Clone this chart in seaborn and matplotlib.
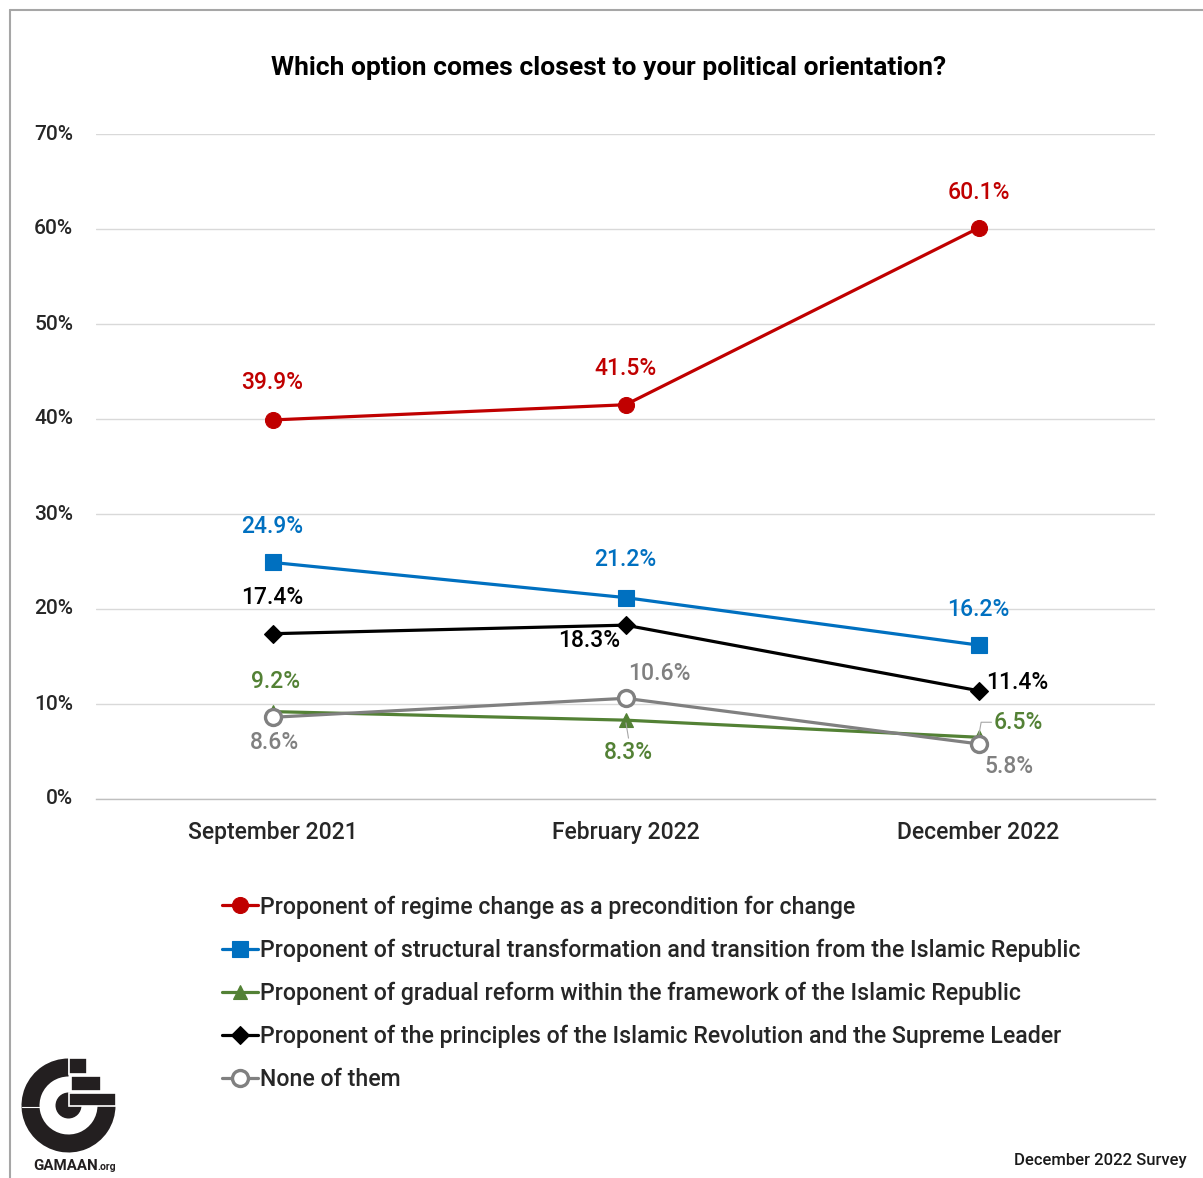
import matplotlib
matplotlib.use("Agg")
import matplotlib.pyplot as plt
import matplotlib.transforms as mtransforms
from matplotlib.patches import Wedge, Circle, Rectangle
from matplotlib.lines import Line2D
import seaborn as sns
import pandas as pd

# Survey waves and shares (%) per political orientation
surveys = ["September 2021", "February 2022", "December 2022"]
series_names = [
    "Proponent of regime change as a precondition for change",
    "Proponent of structural transformation and transition from the Islamic Republic",
    "Proponent of gradual reform within the framework of the Islamic Republic",
    "Proponent of the principles of the Islamic Revolution and the Supreme Leader",
    "None of them",
]
regime_change = [39.9, 41.5, 60.1]
structural = [24.9, 21.2, 16.2]
gradual_reform = [9.2, 8.3, 6.5]
principles = [17.4, 18.3, 11.4]
none_of_them = [8.6, 10.6, 5.8]
y_ticks = [0, 10, 20, 30, 40, 50, 60, 70]

values = [regime_change, structural, gradual_reform, principles, none_of_them]
colors = ["#C00000", "#0070C0", "#538135", "#000000", "#808080"]
markers = ["o", "s", "^", "D", "o"]
msizes = [11.5, 11, 10.5, 9, 11.5]

# label offsets in pixels (dx, dy) per point
label_pos = [
    [(0, 37), (0, 36), (0, 36)],
    [(0, 36), (0, 38), (0, 36)],
    [(3, 30), (3, -32), (40, 15)],
    [(0, 36), (-36, -15), (39, 8)],
    [(2, -25), (34, 25), (31, -23)],
]

df = pd.DataFrame({
    "survey": [i for _ in series_names for i in range(len(surveys))],
    "series": [s for s in series_names for _ in surveys],
    "value": [v for vals in values for v in vals],
})

sns.set_theme(style="white")
plt.rcParams["font.family"] = ["Roboto", "DejaVu Sans"]

W, H = 1203, 1178
fig = plt.figure(figsize=(W / 100, H / 100), dpi=100)
ax = fig.add_axes([96 / W, 1 - 799 / H, (1155 - 96) / W, (799 - 134) / H])

for name, col, mk, ms in zip(series_names, colors, markers, msizes):
    sub = df[df["series"] == name]
    hollow = name == "None of them"
    sns.lineplot(
        data=sub, x="survey", y="value", ax=ax, color=col, linewidth=2.3,
        marker=mk, markersize=ms,
        markerfacecolor="white" if hollow else col,
        markeredgecolor=col, markeredgewidth=2.4 if hollow else 0.8,
        label=name, legend=False, zorder=3,
    )

for vals, col, pos in zip(values, colors, label_pos):
    for i, (v, (dx, dy)) in enumerate(zip(vals, pos)):
        ax.annotate(f"{v:.1f}%", xy=(i, v), xytext=(dx, dy),
                    textcoords="offset pixels", ha="center", va="center",
                    fontsize=16.5, fontweight="medium", color=col, zorder=4)

# thin leaders for the crowded gradual-reform labels
ax.annotate("", xy=(2, gradual_reform[2]), xytext=(13, 15), textcoords="offset pixels",
            arrowprops=dict(arrowstyle="-", color="#A6A6A6", lw=0.8, shrinkA=0, shrinkB=2,
                            connectionstyle="angle,angleA=0,angleB=80,rad=0"))
ax.annotate("", xy=(1, gradual_reform[1]), xytext=(3, -18), textcoords="offset pixels",
            arrowprops=dict(arrowstyle="-", color="#A6A6A6", lw=0.8, shrinkA=0, shrinkB=2))

ax.set_xlim(-0.5, 2.5)
ax.set_ylim(0, 70)
ax.set_yticks(y_ticks)
ax.set_yticklabels([f"{t}%" for t in y_ticks], fontsize=15, fontweight="medium")
ax.set_xticks(range(len(surveys)))
ax.set_xticklabels(surveys, fontsize=16.5, fontweight="medium")
ax.set_xticks([-0.5, 0.5, 1.5, 2.5], minor=True)
ax.tick_params(axis="x", which="major", length=0, pad=15.5)
ax.tick_params(axis="x", which="minor", length=6, width=1, color="#BFBFBF", direction="out")
ax.tick_params(axis="y", length=0, pad=16.5)
ax.set_xlabel("")
ax.set_ylabel("")
ax.yaxis.grid(True, color="#D9D9D9", linewidth=1)
ax.set_axisbelow(True)
for s in ["top", "left", "right"]:
    ax.spines[s].set_visible(False)
ax.spines["bottom"].set_color("#BFBFBF")
ax.spines["bottom"].set_linewidth(1)
# lift the y labels a touch above their gridlines
offset = mtransforms.ScaledTranslation(0, 2 / 100, fig.dpi_scale_trans)
for lbl in ax.get_yticklabels():
    lbl.set_transform(lbl.get_transform() + offset)

fig.text(609 / W, 1 - 68 / H, "Which option comes closest to your political orientation?",
         ha="center", va="center", fontsize=19, fontweight="bold", color="black")

handles = [
    Line2D([], [], color=c, lw=2.3, marker=m, markersize=ms,
           markerfacecolor="white" if n == "None of them" else c,
           markeredgecolor=c, markeredgewidth=2.4 if n == "None of them" else 0.8)
    for n, c, m, ms in zip(series_names, colors, markers, msizes)
]
fig.legend(handles, series_names, loc="upper left", bbox_to_anchor=(206 / W, 1 - 879 / H),
           frameon=False, handlelength=1.55, handletextpad=0.08,
           labelspacing=0.86, borderpad=0.2, prop={"weight": "medium", "size": 16.7})

fig.text(1187 / W, 1 - 1160 / H, "December 2022 Survey", ha="right", va="center",
         fontsize=12, fontweight="medium", color="#1A1A1A")

# frame lines
fig.add_artist(Line2D([10 / W, 1], [1 - 10 / H, 1 - 10 / H], color="#A6A6A6", lw=1.5))
fig.add_artist(Line2D([10 / W, 10 / W], [0, 1 - 10 / H], color="#A6A6A6", lw=1.5))

# GAMAAN logo
lax = fig.add_axes([15 / W, 1 - 1160 / H, 108 / W, 108 / H])
lax.set_xlim(15, 123)
lax.set_ylim(1160, 1052)
lax.axis("off")
dark = "#231F20"
cx, cy = 68.5, 1105.5
lax.add_patch(Wedge((cx, cy), 47, 0, 270, width=18, facecolor=dark, edgecolor="none"))
lax.add_patch(Circle((cx, cy), 13, facecolor=dark, edgecolor="none"))
for x0, y0, w, h in [(69, 1058, 18, 16), (71, 1076, 30, 15), (69, 1092.5, 47, 13)]:
    lax.add_patch(Rectangle((x0, y0), w, h, facecolor=dark, edgecolor="white", linewidth=1.2))
lax.plot([cx - 47, cx - 28], [cy + 1.5, cy + 1.5], color="white", lw=0.8)
fig.text(33 / W, 1 - 1166 / H, "GAMAAN", ha="left", va="center", fontsize=10.8,
         fontweight="bold", color=dark)
fig.text(97 / W, 1 - 1167 / H, ".org", ha="left", va="center", fontsize=7.5,
         fontweight="bold", color=dark)

fig.savefig("out.png", dpi=100)
